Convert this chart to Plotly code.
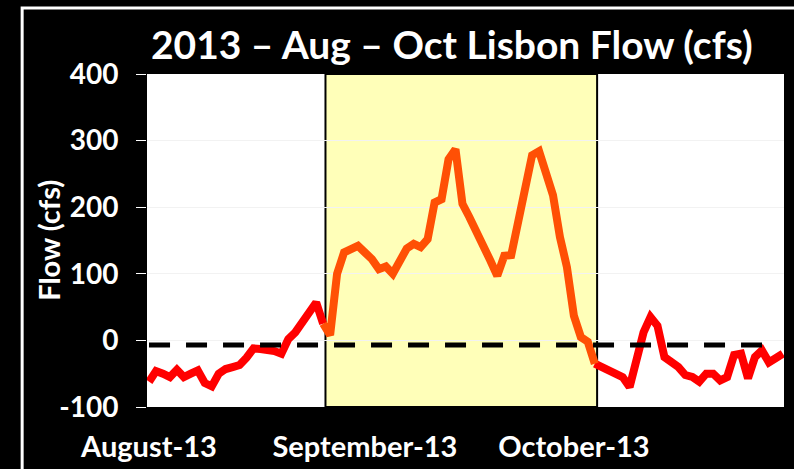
import pandas as pd
import plotly.graph_objects as go

# ---- data ----
start_date = "2013-08-01"
flow_cfs = [-62, -46, -50, -55, -44, -55, -50, -45, -64, -69,
            -50, -43, -40, -37, -26, -12, -13, -14, -16, -20,
            2, 12, 27, 40, 57, 25, 8, 100, 132, 137,
            142, 132, 122, 107, 111, 100, 117, 138, 145, 140,
            152, 207, 212, 272, 287, 205, 185, 165, 145, 120,
            97, 127, 128, 180, 222, 278, 284, 252, 218, 155,
            110, 37, 5, -2, -35, -40, -44, -48, -55, -70,
            -32, 12, 35, 22, -25, -33, -40, -52, -55, -62,
            -50, -50, -60, -55, -22, -20, -57, -25, -15, -33,
            -25, -20]
dates = pd.date_range(start_date, periods=len(flow_cfs), freq="D")

event_first_idx = 25   # first day of the highlighted (orange) period
event_last_idx = 64    # last day of the highlighted period
shade_start = "2013-08-26 08:00"
shade_end = "2013-10-04 08:00"

threshold = -7
threshold_dates = ["2013-08-01", "2013-10-30"]

title_text = "2013 – Aug – Oct Lisbon Flow (cfs)"
y_title = "Flow (cfs)"
y_ticks = [-100, 0, 100, 200, 300, 400]
y_ticklabels = ["-100", "0", "100", "200", "300", "400"]

FONT = "Lato, 'Open Sans', sans-serif"

fig = go.Figure()

# before event (red)
fig.add_trace(go.Scatter(
    x=dates[:event_first_idx + 1], y=flow_cfs[:event_first_idx + 1],
    mode="lines", line=dict(color="#FF0000", width=8), showlegend=False))
# after event (red)
fig.add_trace(go.Scatter(
    x=dates[event_last_idx:], y=flow_cfs[event_last_idx:],
    mode="lines", line=dict(color="#FF0000", width=8), showlegend=False))
# event (orange)
fig.add_trace(go.Scatter(
    x=dates[event_first_idx:event_last_idx + 1],
    y=flow_cfs[event_first_idx:event_last_idx + 1],
    mode="lines", line=dict(color="#FF5005", width=8), showlegend=False))
# threshold dashed line
fig.add_trace(go.Scatter(
    x=threshold_dates, y=[threshold, threshold],
    mode="lines", line=dict(color="#000000", width=5, dash="21px,16px"),
    showlegend=False))

# shaded event window
fig.add_shape(type="rect", xref="x", yref="y",
              x0=shade_start, x1=shade_end, y0=-100, y1=400,
              fillcolor="#FFFFB9", line=dict(color="#000000", width=2),
              layer="below")
# outer white frame
fig.add_shape(type="rect", xref="paper", yref="paper",
              x0=-0.196, x1=1.05, y0=-0.25, y1=1.198,
              line=dict(color="#FFFFFF", width=3), fillcolor="rgba(0,0,0,0)",
              layer="above")

# y-axis title
fig.add_annotation(text=y_title, xref="paper", yref="paper",
                   x=-0.155, y=0.5, xanchor="center", yanchor="middle",
                   textangle=-90, showarrow=False,
                   font=dict(family=FONT, size=29, color="#FFFFFF",
                             weight="bold"))

fig.update_layout(
    width=794, height=469,
    paper_bgcolor="#000000", plot_bgcolor="#FFFFFF",
    margin=dict(l=147, r=10, t=74, b=62, autoexpand=False),
    title=dict(text=title_text, x=0.569, xanchor="center",
               y=0.904, yanchor="middle",
               font=dict(family=FONT, size=39, color="#FFFFFF",
                         weight="bold")),
    font=dict(family=FONT, color="#FFFFFF"),
)

fig.update_xaxes(
    range=["2013-07-31 17:00", "2013-10-31 04:00"],
    tickformat="%B-%y", dtick="M1", tick0="2013-08-01",
    showgrid=False, zeroline=False, showline=False, automargin=False,
    ticks="", ticklabelstandoff=20,
    tickfont=dict(family=FONT, size=29, color="#FFFFFF", weight="bold"),
)
fig.update_yaxes(
    range=[-100, 400], tickvals=y_ticks, ticktext=y_ticklabels,
    showgrid=True, gridcolor="#F2F2F2", gridwidth=1,
    zeroline=False, showline=False, automargin=False,
    ticks="outside", ticklen=10, tickcolor="#FFFFFF", tickwidth=1,
    ticklabelstandoff=12,
    tickfont=dict(family=FONT, size=28, color="#FFFFFF", weight="bold"),
)

fig.write_html("out.html",
               config={"displayModeBar": False},
               post_script="document.body.style.margin='0';")
